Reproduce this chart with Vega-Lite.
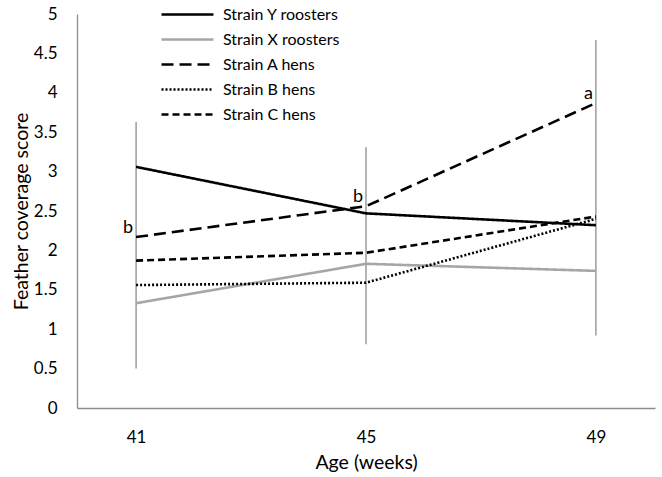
{
  "$schema": "https://vega.github.io/schema/vega-lite/v6.json",
  "width": 578,
  "height": 394,
  "autosize": {"type": "none"},
  "padding": {"left": 77, "top": 14, "right": 7, "bottom": 69},
  "background": "white",
  "config": {
    "view": {"stroke": null},
    "font": "Lato",
    "axis": {"labelFont": "Lato", "titleFont": "Lato", "labelFontSize": 17, "titleFontSize": 19.5, "titleFontWeight": "normal", "labelColor": "#000000", "titleColor": "#000000", "grid": false, "ticks": false, "domainColor": "#8c8c8c", "domainWidth": 1.3, "labelOverlap": false},
    "legend": {"labelFont": "Lato", "labelFontSize": 16, "labelColor": "#000000"}
  },
  "encoding": {
    "x": {"field": "age", "type": "ordinal", "scale": {"type": "point", "padding": 0.257}, "title": "Age (weeks)", "axis": {"labelAngle": 0, "labelPadding": 21, "titlePadding": 8}},
    "y": {"type": "quantitative", "scale": {"domain": [0, 5], "nice": false}, "title": "Feather coverage score", "axis": {"values": [0, 0.5, 1, 1.5, 2, 2.5, 3, 3.5, 4, 4.5, 5], "format": ".1~f", "labelPadding": 20, "titlePadding": 2, "labelOverlap": false}}
  },
  "layer": [
    {
      "data": {"values": [
        {"age": "41", "low": 0.50, "high": 3.63},
        {"age": "45", "low": 0.81, "high": 3.31},
        {"age": "49", "low": 0.92, "high": 4.67}
      ]},
      "mark": {"type": "rule", "color": "#8c8c8c", "strokeWidth": 1.3},
      "encoding": {
        "y": {"field": "low", "type": "quantitative", "scale": {"domain": [0, 5], "nice": false}, "title": "Feather coverage score", "axis": {"values": [0, 0.5, 1, 1.5, 2, 2.5, 3, 3.5, 4, 4.5, 5], "format": ".1~f", "labelPadding": 20, "titlePadding": 2, "labelOverlap": false}},
        "y2": {"field": "high"}
      }
    },
    {
      "data": {"values": [
        {"age": "41", "strain": "Strain Y roosters", "score": 3.06},
        {"age": "45", "strain": "Strain Y roosters", "score": 2.47},
        {"age": "49", "strain": "Strain Y roosters", "score": 2.32},
        {"age": "41", "strain": "Strain X roosters", "score": 1.33},
        {"age": "45", "strain": "Strain X roosters", "score": 1.83},
        {"age": "49", "strain": "Strain X roosters", "score": 1.74},
        {"age": "41", "strain": "Strain A hens", "score": 2.17},
        {"age": "45", "strain": "Strain A hens", "score": 2.56},
        {"age": "49", "strain": "Strain A hens", "score": 3.87},
        {"age": "41", "strain": "Strain B hens", "score": 1.56},
        {"age": "45", "strain": "Strain B hens", "score": 1.59},
        {"age": "49", "strain": "Strain B hens", "score": 2.40},
        {"age": "41", "strain": "Strain C hens", "score": 1.87},
        {"age": "45", "strain": "Strain C hens", "score": 1.97},
        {"age": "49", "strain": "Strain C hens", "score": 2.43}
      ]},
      "mark": {"type": "line", "strokeWidth": 2.6},
      "encoding": {
        "y": {"field": "score", "type": "quantitative", "scale": {"domain": [0, 5], "nice": false}, "title": "Feather coverage score", "axis": {"values": [0, 0.5, 1, 1.5, 2, 2.5, 3, 3.5, 4, 4.5, 5], "format": ".1~f", "labelPadding": 20, "titlePadding": 2, "labelOverlap": false}},
        "color": {"field": "strain", "type": "nominal", "scale": {"domain": ["Strain Y roosters", "Strain X roosters", "Strain A hens", "Strain B hens", "Strain C hens"], "range": ["#000000", "#a6a6a6", "#000000", "#000000", "#000000"]},
          "legend": {"title": null, "orient": "none", "legendX": 83, "legendY": -12, "symbolType": "stroke", "symbolSize": 2700, "symbolStrokeWidth": 2.6, "clipHeight": 25, "rowPadding": 0, "labelOffset": 8, "labelLimit": 300, "padding": 0}},
        "strokeDash": {"field": "strain", "type": "nominal", "scale": {"domain": ["Strain Y roosters", "Strain X roosters", "Strain A hens", "Strain B hens", "Strain C hens"], "range": [[1, 0], [1, 0], [12, 6], [2, 2], [7, 4]]}},
        "order": {"field": "age"}
      }
    },
    {
      "data": {"values": [
        {"age": "41", "score": 2.17, "label": "b"},
        {"age": "45", "score": 2.56, "label": "b"},
        {"age": "49", "score": 3.87, "label": "a"}
      ]},
      "mark": {"type": "text", "align": "right", "baseline": "bottom", "dx": -3, "dy": 0, "fontSize": 18, "font": "Lato", "color": "#000000"},
      "encoding": {
        "y": {"field": "score", "type": "quantitative", "scale": {"domain": [0, 5], "nice": false}, "title": "Feather coverage score", "axis": {"values": [0, 0.5, 1, 1.5, 2, 2.5, 3, 3.5, 4, 4.5, 5], "format": ".1~f", "labelPadding": 20, "titlePadding": 2, "labelOverlap": false}},
        "text": {"field": "label"}
      }
    }
  ]
}
